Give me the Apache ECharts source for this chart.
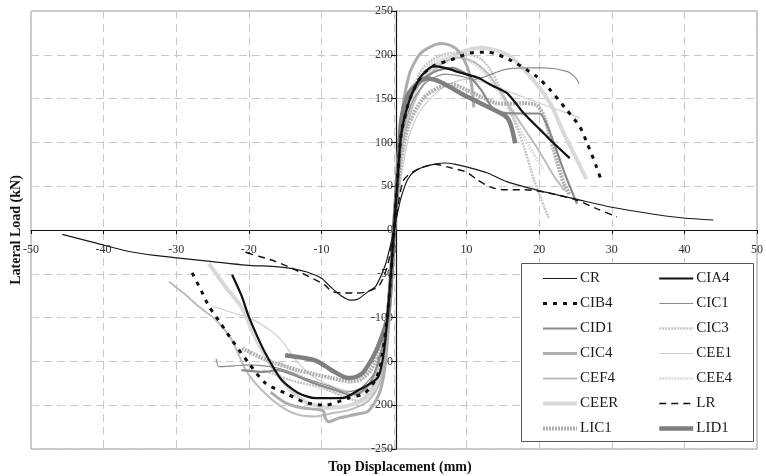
<!DOCTYPE html>
<html>
<head>
<meta charset="utf-8">
<script src="https://cdn.jsdelivr.net/npm/echarts@6/dist/echarts.min.js"></script>
<style>
  html, body { margin: 0; padding: 0; background: #fff; }
  #chart { width: 766px; height: 476px; }
</style>
</head>
<body>
<div id="chart"></div>
<script>
// Load–displacement envelopes, [displacement (mm), lateral load (kN)]
const CR = [[-45.7,-5],[-41,-15],[-36.8,-24],[-33,-29],[-29.6,-32],[-25,-36],[-20.4,-40],[-16,-42],[-14,-44],[-12,-48],[-10,-55],[-8.6,-66],[-7.3,-75],[-6,-80],[-5,-79],[-3.5,-70],[-2.5,-64],[-1.2,-40],[-0.5,-18],[0,0],
  [0.5,20],[1,38],[1.9,58],[3,68],[5,74],[7,76.5],[8.5,75],[10,72],[12.9,65],[15.6,55],[20,45],[25.2,35],[30,26],[35.8,18],[39.9,13.7],[44,11.4]];
const LR = [[-20.3,-26],[-17,-34],[-14.5,-42],[-12,-52],[-9.5,-63],[-8.6,-70],[-7.2,-72],[-5.5,-72],[-4,-71],[-2.2,-65],[-1.5,-55],[-0.8,-38],[0,0],
  [0.6,30],[1.2,55],[2,63],[3.7,71],[5.6,75],[7.8,71],[10,66],[11.5,57],[13.3,49],[15,46],[18,46],[21.5,42],[25.2,34],[28,24],[30.7,15]];
const CIA4 = [[-22.3,-51],[-21,-75],[-20,-99],[-18.8,-122],[-17.7,-141],[-15.5,-171],[-13.2,-186],[-10.8,-192],[-7.2,-192],[-4.9,-183],[-2.2,-168],[-1.3,-133],[-0.6,-70],[0,0],
  [0.5,60],[1,110],[2,145],[3,165],[4,178],[5.5,187],[7,185],[9,180],[11.5,174],[13.5,165],[15.6,156],[17.9,133],[20.2,114],[22,99],[24.2,82]];
const CIB4 = [[-27.8,-49],[-26.5,-70],[-25.5,-87],[-24,-105],[-22.3,-126],[-20,-152],[-17.7,-175],[-14.5,-188],[-12.2,-197],[-9.5,-200],[-6.3,-192],[-4,-186],[-2.5,-170],[-1.8,-152],[-0.8,-90],[0,0],
  [0.5,60],[1,110],[2,145],[3,165],[4,178],[5.6,188],[7.8,194],[10.5,202],[12.9,203],[16,194],[19.7,175],[21.5,160],[23.8,137],[25.6,118],[26.6,99],[27.9,72],[28.6,55]];
const CIC1 = [[-24.5,-147],[-24.1,-156],[-22,-155],[-20,-154],[-17,-156],[-15,-160],[-12,-170],[-9,-178],[-6.5,-185],[-4.5,-180],[-2.5,-160],[-1.2,-120],[-0.5,-60],[0,0],
  [0.6,70],[1.2,110],[2.2,140],[3.5,160],[5,172],[7,178],[9,176],[11,172],[12.5,175],[15.2,183],[17.9,185],[20.7,185],[23.8,181],[25,174],[25.5,167]];
const CID1 = [[-21,-160],[-18,-162],[-16,-160],[-14,-165],[-11,-175],[-8,-183],[-6,-188],[-4.5,-185],[-3,-170],[-1.5,-130],[-0.5,-60],[0,0],
  [0.5,70],[1.2,120],[2.5,155],[4,172],[6,182],[8,185],[10,178],[12,160],[13.5,140],[15,134],[18,133],[20,133],[20.8,125],[22,100],[23.5,65],[25.2,30]];
const CIC3 = [[-18,-160],[-14,-172],[-10,-180],[-7,-190],[-5,-195],[-3,-180],[-1.5,-140],[-0.5,-65],[0,0],
  [0.6,70],[1.3,120],[2.5,160],[4,185],[6,198],[8,202],[10,201],[12,195],[13.5,180],[15,155],[16.5,126],[17.9,95],[19.3,57],[20.7,26],[21.3,14]];
const CIC4 = [[-17,-185],[-15,-197],[-12.7,-203],[-10.5,-205],[-9.7,-207],[-9.5,-214],[-9,-219],[-7.7,-215],[-5,-210],[-3.6,-207],[-2.2,-190],[-1.5,-170],[-1.1,-145],[-0.5,-80],[0,0],
  [0.5,80],[1.2,140],[2.2,180],[3.5,200],[5,209],[6.5,213],[8,210],[9,203],[10.1,186],[10.7,165],[11,140]];
const CEE1 = [[-25,-87],[-22,-95],[-20,-100],[-17.5,-112],[-15.5,-126],[-13.2,-152],[-11,-168],[-8,-180],[-5,-185],[-3,-175],[-1.5,-140],[-0.5,-70],[0,0],
  [1,60],[2,105],[3.5,135],[6,158],[8,168],[10,172],[12,169],[14.2,163],[18,151],[22,139],[25.6,128]];
const CEF4 = [[-31,-59],[-29,-72],[-26.8,-88],[-24.5,-103],[-22.3,-126],[-20.4,-160],[-18.2,-183],[-15.5,-202],[-13.2,-211],[-10.8,-213],[-9,-210],[-6,-205],[-3.5,-195],[-2,-175],[-1,-130],[0,0],
  [0.6,60],[1.5,110],[3,150],[5,178],[7,192],[9,197],[11,192],[13,178],[14.5,160],[16,140],[18,115],[20,90],[22,62],[23.5,45]];
const CEE4 = [[-16,-150],[-12,-170],[-8,-185],[-5,-190],[-3,-178],[-1.5,-135],[-0.5,-60],[0,0],
  [0.6,70],[1.5,125],[3,165],[5,188],[7,198],[9,197],[11,190],[13,175],[15,150],[17,120],[19,90],[20.5,70]];
const CEER = [[-25.5,-38],[-23.2,-65],[-21,-88],[-19.6,-114],[-18,-140],[-16,-165],[-14,-185],[-12,-197],[-9,-203],[-6,-200],[-3.5,-190],[-2,-165],[-1,-110],[0,0],
  [0.5,60],[1.2,110],[2.5,150],[4,175],[6,190],[8,198],[10,205],[12,208],[14,205],[16,198],[18.8,175],[21.5,145],[23.4,110],[25.2,80],[26.5,58]];
const LIC1 = [[-20.9,-135],[-17.7,-148],[-13.2,-160],[-8.6,-169],[-5.9,-173],[-4.5,-170],[-3.2,-160],[-1.3,-126],[-0.5,-60],[0,0],
  [1,80],[2,120],[4,150],[6,162],[8,166],[10,160],[12,152],[14,145],[16,144],[18,145],[19.7,142],[20.7,129],[22,91],[23.4,53],[24.2,40]];
const LID1 = [[-15,-143],[-10.8,-149],[-8.6,-160],[-6.3,-169],[-5,-167],[-4,-160],[-2.2,-133],[-0.8,-95],[0,0],
  [0.5,60],[1,125],[1.9,154],[3.3,168],[4.5,173],[6.4,169],[10.1,152],[15.2,131],[16,122],[16.7,99]];

const legendLeft = ['CR', 'CIB4', 'CID1', 'CIC4', 'CEF4', 'CEER', 'LIC1'];
const legendRight = ['CIA4', 'CIC1', 'CIC3', 'CEE1', 'CEE4', 'LR', 'LID1'];

const SERIF = "'Liberation Serif', 'Times New Roman', serif";

// drawing order: light grey curves underneath, black curves on top
const specs = [
  { name: 'CEER', data: CEER, color: '#d9d9d9', width: 4 },
  { name: 'CEE4', data: CEE4, color: '#dedede', width: 3, type: [2, 1] },
  { name: 'CEE1', data: CEE1, color: '#cdcdcd', width: 1.2 },
  { name: 'CIC3', data: CIC3, color: '#c6c6c6', width: 2.5, type: [2, 1] },
  { name: 'CEF4', data: CEF4, color: '#bdbdbd', width: 2 },
  { name: 'CIC4', data: CIC4, color: '#adadad', width: 3 },
  { name: 'LIC1', data: LIC1, color: '#b0b0b0', width: 4, type: [2, 1] },
  { name: 'CIC1', data: CIC1, color: '#8c8c8c', width: 1.2 },
  { name: 'CID1', data: CID1, color: '#8a8a8a', width: 2.2 },
  { name: 'LID1', data: LID1, color: '#7f7f7f', width: 4.5 },
  { name: 'CR', data: CR, color: '#1a1a1a', width: 1.2 },
  { name: 'LR', data: LR, color: '#111111', width: 1.4, type: [7, 5] },
  { name: 'CIA4', data: CIA4, color: '#111111', width: 2.2 },
  { name: 'CIB4', data: CIB4, color: '#111111', width: 3, type: [4, 6] }
];
const specByName = {};
specs.forEach(s => { specByName[s.name] = s; });

const series = specs.map(s => ({
  name: s.name,
  type: 'line',
  data: s.data,
  smooth: 0.25,
  symbol: 'none',
  showSymbol: false,
  color: s.color,
  lineStyle: { color: s.color, width: s.width, type: s.type || 'solid', cap: 'butt' },
  emphasis: { disabled: true }
}));

// legend entries carry the same stroke as their curve
const legendItems = names => names.map(n => {
  const s = specByName[n];
  return { name: n, lineStyle: { color: s.color, width: s.width, type: s.type || 'solid' } };
});

const legendBase = {
  orient: 'vertical',
  padding: 0,
  itemWidth: 34,
  itemHeight: 14,
  itemGap: 10,
  itemStyle: { opacity: 0, borderWidth: 0 },
  textStyle: { fontFamily: SERIF, fontSize: 15, lineHeight: 15, color: '#1a1a1a', padding: [0, 0, 0, -2] },
  selectedMode: false,
  z: 5
};

const chart = echarts.init(document.getElementById('chart'), null, { renderer: 'canvas' });
chart.setOption({
  animation: false,
  backgroundColor: '#ffffff',
  grid: { left: 31, right: 5, top: 11, bottom: 27, show: true, borderColor: '#9a9a9a', borderWidth: 1, backgroundColor: 'transparent' },
  xAxis: {
    type: 'value', min: -50, max: 50, interval: 10,
    position: 'bottom', offset: -219,
    axisLine: { onZero: false, lineStyle: { color: '#111', width: 1.2 } },
    axisTick: { show: true, length: 4, lineStyle: { color: '#111' } },
    axisLabel: { margin: 14, fontFamily: SERIF, fontSize: 12, color: '#333' },
    splitLine: { show: true, lineStyle: { color: '#c8c8c8', type: [8, 5], width: 1 } }
  },
  yAxis: {
    type: 'value', min: -250, max: 250, interval: 50,
    position: 'left', offset: -365,
    axisLine: { onZero: false, lineStyle: { color: '#111', width: 1.2 } },
    axisTick: { show: true, length: 5, lineStyle: { color: '#111' } },
    axisLabel: { margin: 3, fontFamily: SERIF, fontSize: 12, color: '#333' },
    splitLine: { show: true, lineStyle: { color: '#c8c8c8', type: [8, 5], width: 1 } }
  },
  legend: [
    Object.assign({}, legendBase, { data: legendItems(legendLeft), left: 541, top: 271 }),
    Object.assign({}, legendBase, { data: legendItems(legendRight), left: 657, top: 271 })
  ],
  graphic: [
    { type: 'rect', z: 3, shape: { x: 521.5, y: 263.5, width: 232, height: 178 },
      style: { fill: '#ffffff', stroke: '#555555', lineWidth: 1 } },
    { type: 'text', z: 3, x: 400, y: 467,
      style: { text: 'Top Displacement (mm)', font: "bold 14px 'Liberation Serif', serif", fill: '#111', align: 'center', verticalAlign: 'middle' } },
    { type: 'text', z: 3, x: 16, y: 230, rotation: Math.PI / 2,
      style: { text: 'Lateral Load (kN)', font: "bold 14px 'Liberation Serif', serif", fill: '#111', align: 'center', verticalAlign: 'middle' } }
  ],
  series: series
});
</script>
</body>
</html>
